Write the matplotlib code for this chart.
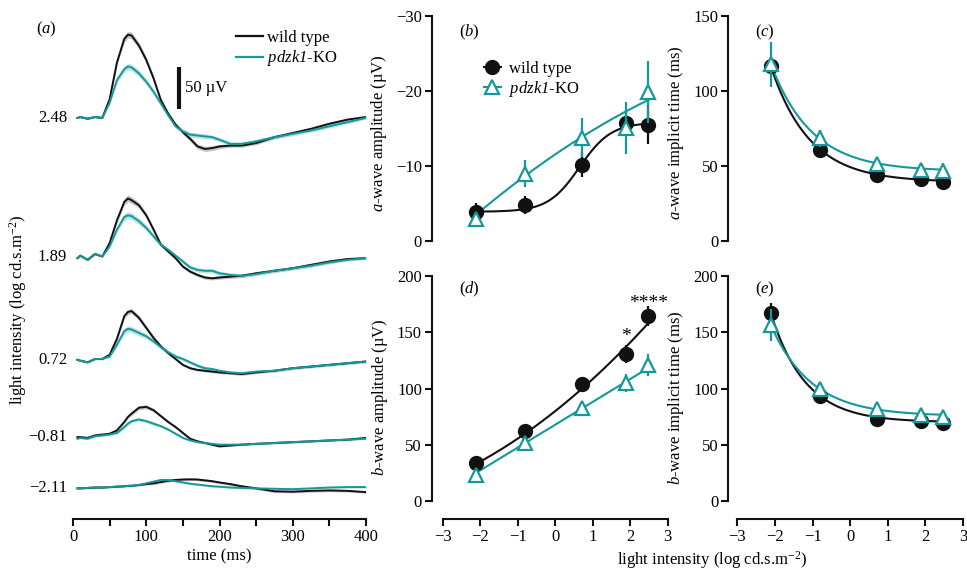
import numpy as np
import matplotlib
matplotlib.use("Agg")
import matplotlib.pyplot as plt
from matplotlib.lines import Line2D

plt.rcParams["font.family"] = ["Liberation Serif", "DejaVu Serif"]
plt.rcParams["mathtext.fontset"] = "custom"
plt.rcParams["mathtext.rm"] = "Liberation Serif"
plt.rcParams["mathtext.it"] = "Liberation Serif:italic"
plt.rcParams["mathtext.sf"] = "Liberation Serif:italic"   # italic digits for gene name
plt.rcParams["font.size"] = 12

W, H = 967, 573
BLACK = "#111111"
TEAL = "#14989a"
GREY_BAND = "#b8b8b8"
TEAL_BAND = "#9fd6d6"

# ---- panel (a): averaged ERG traces, µV relative to each baseline ----
T = [6, 10, 20, 30, 40, 50, 60, 70, 75, 80, 90, 100, 110, 120, 130, 140, 150,
     160, 170, 180, 190, 200, 215, 230, 250, 275, 300, 325, 350, 375, 400]
TRACE_LABELS = ["2.48", "1.89", "0.72", "\u22120.81", "\u22122.11"]
TRACE_OFFSETS = [441, 275, 153, 61, 0]

WT_248 = [0, 1, -1, 1, 0, 22, 66, 94, 99, 98, 86, 69, 47, 21, 5, -8, -17, -25, -34, -37, -36,
          -34, -33, -33, -30, -23, -18, -13, -7, -2, 1]
KO_248 = [0, 1, -1, 1, 0, 18, 45, 58, 61, 60, 53, 43, 31, 17, 3, -10, -16, -20, -21, -22, -23,
          -26, -31, -31, -28, -23, -19, -15, -10, -5, 0]
WT_189 = [-1, 2, -3, 4, 1, 17, 44, 66, 70, 68, 62, 50, 33, 15, 7, -1, -11, -17, -21, -24, -25,
          -24, -23, -22, -19, -16, -13, -9, -5, -2, -1]
KO_189 = [-1, 2, -3, 4, 1, 13, 33, 48, 50, 49, 43, 35, 25, 15, 9, 2, -5, -12, -15, -16, -16,
          -19, -21, -22, -20, -16, -13, -10, -6, -3, -1]
WT_072 = [0, -1, -3, 1, 1, 6, 25, 52, 57, 58, 50, 38, 26, 16, 8, 1, -6, -10, -12, -13, -14,
          -15, -16, -17, -15, -13, -10, -8, -6, -4, -2]
KO_072 = [0, -1, -3, 1, 1, 4, 18, 34, 37, 36, 32, 28, 22, 15, 9, 4, 1, -3, -7, -10, -11,
          -13, -15, -16, -14, -13, -10, -8, -6, -4, -2]
WT_M081 = [0, 0, -1, 2, 3, 4, 8, 18, 24, 28, 35, 36, 32, 25, 18, 12, 5, -2, -5, -7, -9,
           -11, -10, -9, -8, -7, -6, -5, -4, -3, -1]
KO_M081 = [-2, -1, -2, 1, 2, 3, 5, 12, 16, 19, 21, 19, 16, 13, 9, 4, -1, -4, -6, -7, -8,
           -9, -9, -9, -8, -7, -6, -5, -4, -3, -2]
WT_M211 = [0, 0, 0.5, 1, 1, 1.5, 2, 2.5, 3, 3, 4, 5, 6, 7.5, 9, 10, 10.5, 10.7, 10.5, 9.5, 8.5,
           7, 5, 2.5, 0, -3.5, -4, -3, -2.5, -3, -4.5]
KO_M211 = [0, 0, 0.5, 1, 1, 1.5, 2, 2.5, 3, 3, 4, 6, 8, 10, 10, 8.5, 7, 5.5, 4.5, 3.5, 2.5,
           2, 1, 0.5, 0, -0.5, -1, 0, 1, 1.5, 1.5]

SEM_WT_248 = [1, 1, 1, 1, 1, 2, 3, 4, 4, 4, 4, 3.5, 3, 2.5, 2, 2, 2.5, 3, 3, 3, 3, 2.5, 2, 2, 2,
              2, 1.5, 1.5, 1.5, 1.5, 1.5]
SEM_KO_248 = [1, 1, 1, 1, 1, 2, 3, 4, 4, 4, 4, 3.5, 3, 2.5, 2, 2.5, 3, 3, 3, 3, 2.5, 2.5, 2.5,
              2.5, 2.5, 2.5, 2.5, 2, 2, 2, 1.5]
SEM_WT_189 = [1, 1, 1, 1, 1, 2, 3, 4, 4, 4, 3.5, 3, 2.5, 2, 2, 2, 2, 2, 2, 2, 2, 2, 2, 2, 2, 2,
              2, 2, 2, 1.5, 1.5]
SEM_KO_189 = [1, 1, 1, 1, 1, 2, 3, 4, 4, 4, 4, 3.5, 3, 2.5, 2, 2, 2.5, 2.5, 2.5, 2.5, 2.5, 2.5,
              2.5, 2.5, 2, 2, 2, 2, 2, 1.5, 1.5]
SEM_WT_072 = [1, 1, 1, 1, 1, 1.5, 2.5, 3, 3, 3, 3, 3, 2.5, 2, 2, 1.5, 1.5, 1.5, 1.5, 1.5, 1.5,
              1.5, 1.5, 1.5, 1.5, 1.5, 1.5, 1.5, 1.5, 1.5, 1.5]
SEM_KO_072 = [1, 1, 1, 1, 1, 1.5, 2.5, 3.5, 3.5, 3.5, 3.5, 3, 2.5, 2.5, 2.5, 2.5, 2, 2, 2, 2,
              2, 1.5, 1.5, 1.5, 1.5, 1.5, 1.5, 1.5, 1.5, 1.5, 1.5]
SEM_WT_M081 = [1, 1, 1, 1, 1, 1, 1.5, 2, 2, 2.5, 2.5, 2.5, 2, 2, 1.5, 1.5, 1.5, 1.5, 1, 1, 1,
               1, 1, 1, 1, 1, 1, 1, 1, 1, 1]
SEM_KO_M081 = [1, 1, 1, 1, 1, 1, 1.5, 2, 2, 2, 2, 2, 2, 1.5, 1.5, 1.5, 1, 1, 1, 1, 1, 1, 1, 1,
               1, 1, 1, 1, 1, 1, 1]
SEM_WT_M211 = [1, 1, 1, 1, 1, 1, 1, 1, 1, 1, 1, 1, 1.5, 1.5, 1.5, 1.5, 1.5, 1.5, 1.5, 1.5, 1.5,
               1.5, 1.5, 1.5, 1.5, 1.5, 1.5, 1.5, 1.5, 1.5, 1.5]
SEM_KO_M211 = [1, 1, 1, 1, 1, 1, 1, 1, 1, 1, 1, 1, 1, 1, 1, 1, 1, 1, 1, 1, 1, 1, 1, 1, 1, 1, 1,
               1, 1, 1, 1]

WT_TRACES = [WT_248, WT_189, WT_072, WT_M081, WT_M211]
KO_TRACES = [KO_248, KO_189, KO_072, KO_M081, KO_M211]
WT_SEMS = [SEM_WT_248, SEM_WT_189, SEM_WT_072, SEM_WT_M081, SEM_WT_M211]
KO_SEMS = [SEM_KO_248, SEM_KO_189, SEM_KO_072, SEM_KO_M081, SEM_KO_M211]

# ---- panels (b)-(e): means and SEM at each flash intensity ----
INTENSITY = [-2.11, -0.81, 0.72, 1.89, 2.48]

A_AMP_WT = [-3.9, -4.8, -10.2, -15.7, -15.5]
A_AMP_WT_ERR = [1.2, 1.2, 1.7, 1.5, 2.6]
A_AMP_KO = [-3.0, -9.0, -13.8, -15.1, -19.9]
A_AMP_KO_ERR = [0.6, 1.8, 2.6, 3.5, 4.1]

A_TIME_WT = [116.7, 60.7, 44.2, 41.1, 39.6]
A_TIME_WT_ERR = [2, 2.5, 2, 2, 2]
A_TIME_KO = [118.0, 68.4, 51.1, 47.3, 46.9]
A_TIME_KO_ERR = [15, 5.6, 4, 3, 5]

B_AMP_WT = [34.1, 62.5, 103.7, 130.7, 164.4]
B_AMP_WT_ERR = [3, 3, 6, 8, 9]
B_AMP_KO = [23.1, 51.3, 82.4, 104.6, 120.9]
B_AMP_KO_ERR = [3, 3, 6, 8, 9.5]

B_TIME_WT = [166.8, 93.6, 72.6, 71.1, 69.0]
B_TIME_WT_ERR = [9, 3, 2, 2, 2]
B_TIME_KO = [156.4, 99.6, 81.8, 76.4, 75.0]
B_TIME_KO_ERR = [14, 3, 2, 2, 2]

# fitted curves drawn through the points (parameters of each fit)
A_AMP_WT_FIT = (-3.9, -15.8, 0.65, 0.42)        # boltzmann: bottom, top, x50, slope
A_AMP_KO_FIT = (-11.55, -3.405, 0.194)          # quadratic
B_AMP_WT_FIT = (79.9, 26.48, 2.02)              # quadratic
B_AMP_KO_FIT = (67.8, 20.3, 0.0)                # linear
A_TIME_WT_FIT = (39.3, 77.2, 0.97)              # plateau, span, rate
A_TIME_KO_FIT = (46.5, 71.5, 0.92)
B_TIME_WT_FIT = (70.0, 97.0, 1.09)
B_TIME_KO_FIT = (75.5, 81.0, 0.93)

KO_LABEL = r"$\mathsf{pdzk1}$-KO"

fig = plt.figure(figsize=(W / 100, H / 100), dpi=100)


def px_axes(left, top, right, bottom):
    return fig.add_axes([left / W, 1 - bottom / H, (right - left) / W, (bottom - top) / H])


def style(ax):
    for s in ax.spines.values():
        s.set_linewidth(1.5)
        s.set_color(BLACK)
    ax.spines["top"].set_visible(False)
    ax.spines["right"].set_visible(False)
    ax.tick_params(width=1.5, length=5, color=BLACK, labelsize=12, pad=2)
    ax.patch.set_alpha(0)


# ---------------- (a) ----------------
ax = px_axes(73, 20, 366, 519)
ax.set_xlim(0, 400)
ax.set_ylim(-36.5, 557.5)
style(ax)
ax.spines["left"].set_visible(False)
ax.spines["bottom"].set_bounds(0, 400)
ax.set_yticks([])
ax.set_xticks([0, 100, 200, 300, 400])
ax.set_xticks([50, 150, 250, 350], minor=True)
ax.tick_params(axis="x", which="minor", width=1.5, length=5)
ax.set_xlabel("time (ms)", labelpad=3)

t = np.array(T)
for lab, off, wt, ko, swt, sko in zip(TRACE_LABELS, TRACE_OFFSETS, WT_TRACES, KO_TRACES,
                                      WT_SEMS, KO_SEMS):
    wt = np.array(wt) + off
    ko = np.array(ko) + off
    ax.fill_between(t, wt - swt, wt + swt, color=GREY_BAND, lw=0, alpha=0.8)
    ax.fill_between(t, ko - sko, ko + sko, color=TEAL_BAND, lw=0, alpha=0.7)
    ax.plot(t, wt, color=BLACK, lw=1.4)
    ax.plot(t, ko, color=TEAL, lw=1.4)
    ax.text(-8, off, lab, ha="right", va="center", fontsize=12, clip_on=False)

# 50 µV scale bar
ax.plot([144.6, 144.6], [451, 501], color=BLACK, lw=3, solid_capstyle="butt")
ax.text(153, 476, "50 µV", ha="left", va="center", fontsize=12)

ax.legend([Line2D([], [], color=BLACK, lw=1.6), Line2D([], [], color=TEAL, lw=1.6)],
          ["wild type", KO_LABEL], loc="upper left", frameon=False,
          bbox_to_anchor=(236 / W, 1 - 30 / H), bbox_transform=fig.transFigure,
          borderpad=0, borderaxespad=0, handlelength=1.6, handletextpad=0.25,
          labelspacing=0.15, fontsize=12)
fig.text(46 / W, 1 - 29 / H, r"($\mathit{a}$)", ha="center", va="center", fontsize=12)
fig.text(18 / W, 1 - 310 / H, r"light intensity (log cd.s.m$^{-2}$)", rotation=90,
         ha="center", va="center", fontsize=12)


# ---------------- (b)-(e) ----------------
def boltz(x, p):
    return p[0] + (p[1] - p[0]) / (1 + np.exp((p[2] - x) / p[3]))


def poly(x, p):
    return p[0] + p[1] * x + p[2] * x ** 2


def decay(x, p):
    return p[0] + p[1] * np.exp(-p[2] * (x - INTENSITY[0]))


xf = np.linspace(INTENSITY[0], INTENSITY[-1], 200)


def draw(ax, wt, wt_err, ko, ko_err, wt_fit, ko_fit):
    ax.plot(xf, wt_fit, color=BLACK, lw=1.5, zorder=2)
    ax.plot(xf, ko_fit, color=TEAL, lw=1.5, zorder=2)
    ax.errorbar(INTENSITY, wt, yerr=wt_err, fmt="none", ecolor=BLACK, elinewidth=1.6,
                capsize=0, zorder=3)
    ax.plot(INTENSITY, wt, "o", color=BLACK, ms=10, zorder=4)
    ax.errorbar(INTENSITY, ko, yerr=ko_err, fmt="none", ecolor=TEAL, elinewidth=1.6,
                capsize=0, zorder=5)
    ax.plot(INTENSITY, ko, "^", mfc="white", mec=TEAL, mew=1.6, ms=10, zorder=6)


def panel(left, right, top, bottom, ylim, yticks, ylabel, letter, xaxis):
    ax = px_axes(left, top, right, bottom)
    style(ax)
    ax.set_ylim(*ylim)
    ax.set_yticks(yticks)
    ax.spines["left"].set_bounds(min(yticks), max(yticks))
    ax.set_ylabel(ylabel, labelpad=5)
    if xaxis:
        ax.set_xticks([-3, -2, -1, 0, 1, 2, 3])
        ax.spines["bottom"].set_bounds(-3, 3)
    else:
        ax.spines["bottom"].set_visible(False)
        ax.set_xticks([])
    ax.text(0.115, 0.93 if not xaxis else 0.945, letter, transform=ax.transAxes,
            ha="left", va="center", fontsize=12)
    return ax


# (b) a-wave amplitude
axb = panel(431.7, 671.5, 16, 250, (1.2, -30), [0, -10, -20, -30],
            r"$\mathit{a}$-wave amplitude (µV)", r"($\mathit{b}$)", False)
axb.set_xlim(-3.293, 3.1)
draw(axb, A_AMP_WT, A_AMP_WT_ERR, A_AMP_KO, A_AMP_KO_ERR,
     boltz(xf, A_AMP_WT_FIT), poly(xf, A_AMP_KO_FIT))
axb.legend([Line2D([], [], color=BLACK, marker="o", ms=10, lw=1.5),
            Line2D([], [], color=TEAL, marker="^", mfc="white", mec=TEAL, mew=1.6,
                   ms=10, lw=1.5)],
           ["wild type", KO_LABEL], loc="upper left", frameon=False,
           bbox_to_anchor=(484 / W, 1 - 61 / H), bbox_transform=fig.transFigure,
           borderpad=0, borderaxespad=0, handlelength=1.0, handletextpad=0.5,
           labelspacing=0.1, fontsize=12)

# (c) a-wave implicit time
axc = panel(728, 966, 16, 250, (-6, 150), [0, 50, 100, 150],
            r"$\mathit{a}$-wave implicit time (ms)", r"($\mathit{c}$)", False)
axc.set_xlim(-3.248, 3.08)
draw(axc, A_TIME_WT, A_TIME_WT_ERR, A_TIME_KO, A_TIME_KO_ERR,
     decay(xf, A_TIME_WT_FIT), decay(xf, A_TIME_KO_FIT))

# (d) b-wave amplitude
axd = panel(431.7, 671.5, 276, 519, (-16, 200), [0, 50, 100, 150, 200],
            r"$\mathit{b}$-wave amplitude (µV)", r"($\mathit{d}$)", True)
axd.set_xlim(-3.293, 3.1)
draw(axd, B_AMP_WT, B_AMP_WT_ERR, B_AMP_KO, B_AMP_KO_ERR,
     poly(xf, B_AMP_WT_FIT), poly(xf, B_AMP_KO_FIT))
axd.text(INTENSITY[3], 146, "*", ha="center", va="center", fontsize=14)
axd.text(INTENSITY[4], 176, "****", ha="center", va="center", fontsize=14)

# (e) b-wave implicit time
axe = panel(728, 966, 276, 519, (-16, 200), [0, 50, 100, 150, 200],
            r"$\mathit{b}$-wave implicit time (ms)", r"($\mathit{e}$)", True)
axe.set_xlim(-3.248, 3.08)
draw(axe, B_TIME_WT, B_TIME_WT_ERR, B_TIME_KO, B_TIME_KO_ERR,
     decay(xf, B_TIME_WT_FIT), decay(xf, B_TIME_KO_FIT))

fig.text(712 / W, 1 - 560 / H, r"light intensity (log cd.s.m$^{-2}$)",
         ha="center", va="center", fontsize=12)

fig.savefig("out.png", dpi=100)
